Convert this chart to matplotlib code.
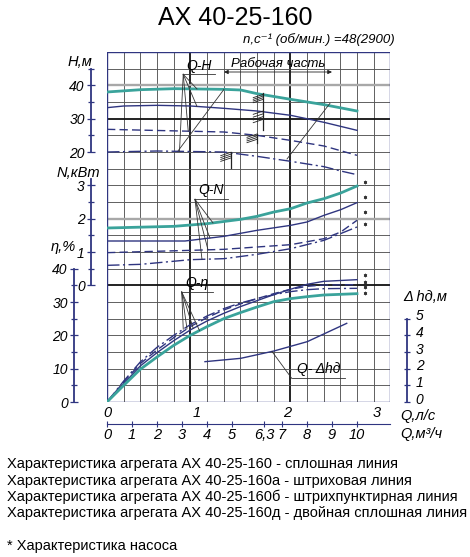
import numpy as np
import matplotlib.pyplot as plt
from matplotlib.transforms import ScaledTranslation

plt.rcParams['font.family'] = ['Liberation Sans', 'DejaVu Sans']
plt.rcParams['font.style'] = 'italic'

TEAL = '#3aa39b'
NAVY = '#2f3580'
GRID = '#555555'

# --- данные (Q в м3/ч) ---
# Q-H
q_h_teal = [0, 1.37, 2.7, 4.68, 5.35, 6.0, 7.35, 8.68, 10.0]
h_teal = [38.0, 38.7, 39.0, 38.8, 38.6, 37.5, 35.8, 34.2, 32.3]
q_h_solid = [0, 0.67, 2.0, 3.35, 4.68, 6.0, 7.35, 8.68, 10.0]
h_solid = [33.3, 33.8, 34.0, 33.8, 33.1, 32.3, 31.0, 28.9, 26.5]
q_h_dash = [0, 4.68, 6.0, 7.33, 8.68, 10.0]
h_dash = [26.8, 26.0, 25.0, 23.5, 21.8, 19.0]
q_h_dashdot = [0, 2.0, 4.68, 6.0, 7.35, 8.68, 9.35, 10.0]
h_dashdot = [20.0, 20.3, 20.0, 18.7, 17.2, 15.6, 14.3, 13.2]

# Q-N
q_n_teal = [0, 2.68, 4.0, 5.35, 6.0, 6.68, 7.35, 8.0, 8.68, 9.35, 10.0]
n_teal = [1.72, 1.77, 1.85, 1.98, 2.07, 2.2, 2.3, 2.47, 2.6, 2.77, 2.98]
q_n_solid = [0, 3.12, 4.68, 6.0, 7.35, 8.0, 8.68, 9.35, 10.0]
n_solid = [1.33, 1.33, 1.47, 1.65, 1.8, 1.9, 2.1, 2.27, 2.48]
q_n_dash = [0, 3.35, 4.68, 6.0, 7.35, 8.68, 9.35, 10.0]
n_dash = [0.98, 1.05, 1.08, 1.15, 1.22, 1.4, 1.6, 1.95]
q_n_dashdot = [0, 1.35, 3.35, 4.68, 6.0, 7.35, 8.68, 10.0]
n_dashdot = [0.6, 0.63, 0.77, 0.8, 0.93, 1.1, 1.35, 1.75]

# Q-КПД
q_eta = [0, 0.67, 1.33, 2.0, 2.67, 3.33, 4.0, 4.67, 5.33, 6.0, 6.67, 7.33, 8.0, 8.67, 10.0]
eta_teal = [0, 5, 9.8, 13.5, 17, 20, 22.6, 25, 26.8, 28.5, 30.1, 31, 31.6, 32.1, 32.5]
eta_solid = [0, 5.5, 10.8, 14.8, 18.4, 21.6, 24.3, 26.6, 28.6, 30.4, 32.2, 33.8, 35.3, 36.2, 36.7]
eta_dash = [0, 6, 11.5, 15.6, 19.3, 22.6, 25.3, 27.6, 29.4, 31, 32.5, 33.8, 34.7, 35.1, 35.2]
eta_dashdot = [0, 6.3, 12, 16.4, 20, 23.2, 25.8, 28, 29.7, 31, 32.2, 33.1, 33.7, 34.0, 34.1]

# Q-Δhд
q_dh = [3.92, 5.35, 6.68, 8.01, 9.59]
dh = [2.42, 2.62, 3.06, 3.62, 4.72]

# отметки "*" у концов кривых
star_n = [3.09, 2.65, 2.19, 1.83]
star_eta = [38.1, 36.1, 34.6, 32.8]

q_m3h_ticks = [0, 1, 2, 3, 4, 5, 6.3, 7, 8, 9, 10]
q_m3h_labels = ['0', '1', '2', '3', '4', '5', '6,3', '7', '8', '9', '10']
q_ls_ticks = [0, 1, 2, 3]

legend_lines = [
    'Характеристика агрегата АХ 40-25-160 - сплошная линия',
    'Характеристика агрегата АХ 40-25-160а - штриховая линия',
    'Характеристика агрегата АХ 40-25-160б - штрихпунктирная линия',
    'Характеристика агрегата АХ 40-25-160д - двойная сплошная линия',
]

W, H = 470, 557
fig = plt.figure(figsize=(W / 100, H / 100), dpi=100)
rect = [107 / W, (H - 402) / H, 283.3 / W, 350 / H]
QMAX = 17 * 2 / 3


def layer(ylim, xlim=(0, QMAX)):
    a = fig.add_axes(rect, facecolor='none')
    a.set_xlim(*xlim)
    a.set_ylim(*ylim)
    for s in a.spines.values():
        s.set_visible(False)
    a.set_xticks([])
    a.set_yticks([])
    return a


def side_axis(a, side, offset_px, lo, hi, major, minor):
    sp = a.spines[side]
    sp.set_visible(True)
    sp.set_position(('outward', offset_px * 0.72))
    sp.set_bounds(lo, hi)
    sp.set_color(NAVY)
    sp.set_linewidth(1.3)
    a.yaxis.set_ticks_position(side)
    a.yaxis.set_label_position(side)
    a.set_yticks(major)
    a.set_yticks(minor, minor=True)
    a.tick_params(axis='y', which='both', direction='inout', color=NAVY, width=0.9)
    a.tick_params(axis='y', which='major', length=6, pad=1.5, labelsize=10)
    a.tick_params(axis='y', which='minor', length=4)


# сетка
ax = layer((0, 21))
for i in range(18):
    x = i * 2 / 3
    lw, c = (1.4, '#222222') if i in (5, 11) else (0.65, GRID)
    ax.axvline(x, color=c, lw=lw, zorder=1)
for j in range(22):
    if j in (17, 7):
        lw, c = 1.3, '#111111'
    elif j in (19, 11):
        lw, c = 1.7, '#a8a8a8'
    else:
        lw, c = 0.65, GRID
    ax.axhline(j, color=c, lw=lw, zorder=1)
for x in (0, QMAX):
    ax.axvline(x, color=NAVY, lw=1.0, zorder=1)
for y in (0, 21):
    ax.axhline(y, color=NAVY, lw=1.0, zorder=1)

ax_h = layer((-55, 50))
ax_n = layer((-3.5, 7))
ax_e = layer((0, 105))
ax_d = layer((0, 21))

side_axis(ax_h, 'left', 16, 20, 45, [20, 30, 40], [25, 35, 45])
side_axis(ax_n, 'left', 16, 0, 3.2, [0, 1, 2, 3], [0.5, 1.5, 2.5])
side_axis(ax_e, 'left', 33, 0, 40, [0, 10, 20, 30, 40], [5, 15, 25, 35])
side_axis(ax_d, 'right', 17, 0, 5, [0, 1, 2, 3, 4, 5], [])
ax_d.tick_params(axis='y', which='major', length=4, pad=4)
for t in ax_d.get_yticklabels():
    t.set_transform(t.get_transform() + ScaledTranslation(0, 0.04, fig.dpi_scale_trans))

styles = {
    'teal': dict(color=TEAL, lw=2.0),
    'solid': dict(color=NAVY, lw=1.0),
    'dash': dict(color=NAVY, lw=1.0, ls=(0, (6, 3))),
    'dashdot': dict(color=NAVY, lw=1.0, ls=(0, (9, 2.5, 1.5, 2.5))),
}

h_curves = {'teal': (q_h_teal, h_teal), 'solid': (q_h_solid, h_solid),
            'dash': (q_h_dash, h_dash), 'dashdot': (q_h_dashdot, h_dashdot)}
n_curves = {'teal': (q_n_teal, n_teal), 'solid': (q_n_solid, n_solid),
            'dash': (q_n_dash, n_dash), 'dashdot': (q_n_dashdot, n_dashdot)}
e_curves = {'teal': (q_eta, eta_teal), 'solid': (q_eta, eta_solid),
            'dash': (q_eta, eta_dash), 'dashdot': (q_eta, eta_dashdot)}

for key in ('dashdot', 'dash', 'solid', 'teal'):
    ax_h.plot(*h_curves[key], **styles[key], zorder=3)
    ax_n.plot(*n_curves[key], **styles[key], zorder=3)
    ax_e.plot(*e_curves[key], **styles[key], zorder=3)
ax_d.plot(q_dh, dh, color=NAVY, lw=1.0, zorder=3)

thin = dict(color='#333333', lw=0.6, zorder=4)
lab = dict(fontsize=10, ha='center', va='bottom', zorder=5)


def leader(a, origin, end_x, curves, targets, text, text_xy):
    ox, oy = origin
    a.plot([ox, end_x], [oy, oy], **thin)
    for key, tq in zip(curves, targets):
        cq, cv = curves[key]
        a.plot([ox, tq], [oy, np.interp(tq, cq, cv)], **thin)
    a.text(*text_xy, text, **lab)


order = ['teal', 'solid', 'dash', 'dashdot']
leader(ax_h, (3.05, 43.3), 4.32, {k: h_curves[k] for k in order},
       [3.6, 3.6, 3.25, 2.9], 'Q-H', (3.7, 43.6))
leader(ax_n, (3.52, 2.58), 4.84, {k: n_curves[k] for k in order},
       [4.24, 4.12, 4.04, 3.8], 'Q-N', (4.15, 2.64))
leader(ax_e, (2.99, 33.0), 4.24, {k: e_curves[k] for k in order},
       [3.7, 3.45, 3.2, 3.05], 'Q-η', (3.6, 33.6))
leader(ax_d, (7.39, 1.42), 9.52, {'d': (q_dh, dh)}, [6.6], 'Q- Δhд', (8.45, 1.55))

# рабочая часть
ax_h.annotate('', xy=(9.0, 44), xytext=(4.68, 44),
              arrowprops=dict(arrowstyle='<|-|>', color='#222222', lw=0.6,
                              mutation_scale=6, shrinkA=0, shrinkB=0))
ax_h.text(6.85, 44.6, 'Рабочая часть', fontsize=9.5, ha='center', va='bottom')
ax_h.plot([4.68, 2.84], [38.8, 20.3], **thin)
ax_h.plot([8.92, 7.2], [34.6, 17.9], **thin)

# штриховка границ
for q, top, bot in [(6.25, 37.6, 26.7), (6.0, 25.4, 22.8), (4.95, 19.9, 15.3)]:
    ax_h.plot([q, q], [top, bot], color='#222222', lw=0.9, zorder=4)
for q, top, bot in [(6.25, 37.3, 34.8), (6.25, 32.3, 28.8), (6.0, 25.4, 22.8), (4.95, 19.9, 17.2)]:
    for y in np.linspace(bot, top - 1.0, 4):
        ax_h.plot([q - 0.4, q], [y, y + 1.0], color='#222222', lw=0.6, zorder=4)

# звёздочки (характеристика насоса)
ax_n.plot([10.32] * len(star_n), star_n, ls='none', marker=(6, 2, 0), ms=2.5,
          mew=0.5, color='#333333')
ax_e.plot([10.32] * len(star_eta), star_eta, ls='none', marker=(6, 2, 0), ms=2.5,
          mew=0.5, color='#333333')

# ось Q, л/с
ax_ls = layer((0, 21), xlim=(0, QMAX / 3.6))
ax_ls.set_xticks(q_ls_ticks)
ax_ls.tick_params(axis='x', length=0, pad=3, labelsize=10.5)

# ось Q, м3/ч
ax_m = layer((0, 21))
sp = ax_m.spines['bottom']
sp.set_visible(True)
sp.set_position(('outward', 22 * 0.72))
sp.set_bounds(0, QMAX)
sp.set_color(NAVY)
ax_m.set_xticks(q_m3h_ticks, q_m3h_labels)
ax_m.tick_params(axis='x', direction='inout', length=4, color=NAVY, pad=1, labelsize=10.5)

# подписи осей
fig.text(80 / W, 1 - 62 / H, 'H,м', fontsize=10.5, ha='center', va='center')
fig.text(78 / W, 1 - 173 / H, 'N,кВт', fontsize=10.5, ha='center', va='center')
fig.text(63 / W, 1 - 247 / H, 'η,%', fontsize=10.5, ha='center', va='center')
fig.text(403 / W, 1 - 297 / H, 'Δ hд,м', fontsize=10.5, ha='left', va='center')
fig.text(400 / W, 1 - 416 / H, 'Q,л/с', fontsize=10.5, ha='left', va='center')
fig.text(400 / W, 1 - 434 / H, 'Q,м³/ч', fontsize=10.5, ha='left', va='center')

fig.text(0.5, 1 - 25 / H, 'АХ 40-25-160', fontsize=18, family='Liberation Sans',
         style='normal', ha='center', va='baseline')
fig.text(243 / W, 1 - 43 / H, 'n,c⁻¹ (об/мин.) =48(2900)', fontsize=9.5,
         ha='left', va='baseline')

for i, t in enumerate(legend_lines):
    fig.text(7 / W, 1 - (468 + 16.5 * i) / H, t, fontsize=10.5, family='Liberation Sans',
             style='normal', ha='left', va='baseline')
fig.text(7 / W, 1 - 550 / H, '* Характеристика насоса', fontsize=10.5,
         family='Liberation Sans', style='normal', ha='left', va='baseline')

fig.savefig('out.png', dpi=100)
